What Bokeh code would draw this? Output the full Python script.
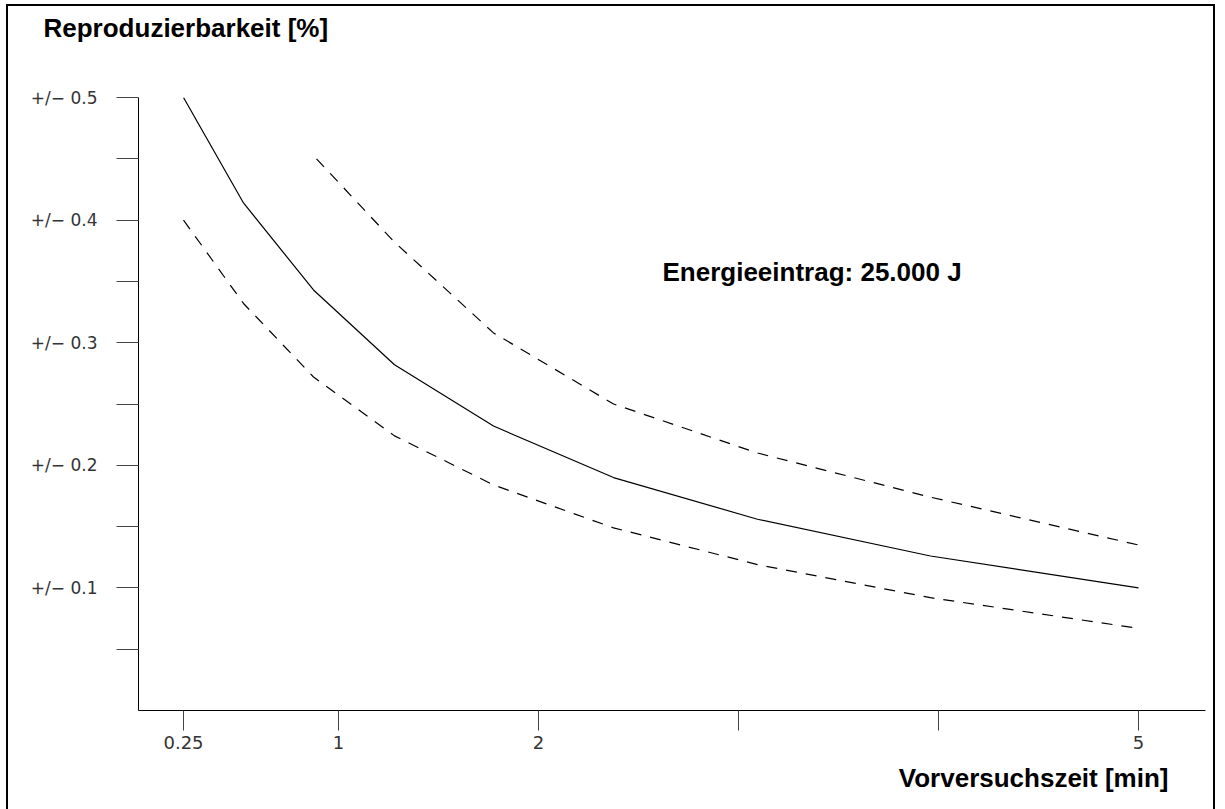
from bokeh.plotting import figure
from bokeh.models import Range1d, FixedTicker, Label, Title
from bokeh.embed import file_html
from bokeh.resources import INLINE

# ---- data ----
x_minutes = [0.225, 0.525, 0.875, 1.28, 1.775, 2.375, 3.095, 3.96, 5.0]
repro_mean = [0.500, 0.414, 0.343, 0.282, 0.232, 0.190, 0.156, 0.126, 0.100]
repro_lower = [0.400, 0.332, 0.272, 0.224, 0.184, 0.149, 0.119, 0.092, 0.067]
upper_x = [0.89, 1.28, 1.775, 2.375, 3.095, 3.96, 5.0]
repro_upper = [0.450, 0.382, 0.308, 0.250, 0.210, 0.174, 0.135]

x_ticks = [0.225, 1, 2, 3, 4, 5]
x_tick_labels = ["0.25", "1", "2", "", "", "5"]
y_ticks = [0.05, 0.1, 0.15, 0.2, 0.25, 0.3, 0.35, 0.4, 0.45, 0.5]
y_tick_labels = ["", "+/\u2212 0.1", "", "+/\u2212 0.2", "", "+/\u2212 0.3", "",
                 "+/\u2212 0.4", "", "+/\u2212 0.5"]

y_title = "Reproduzierbarkeit [%]"
x_title = "Vorversuchszeit [min]"
note = "Energieeintrag: 25.000 J"

bold = "Liberation Sans"

p = figure(width=1205, height=803, output_backend="svg", toolbar_location=None,
           x_range=Range1d(0, 5.335), y_range=Range1d(0, 0.5),
           min_border_left=130, min_border_right=8, min_border_top=91,
           min_border_bottom=99)
p.styles = {"position": "relative", "left": "8px", "top": "6px",
            "outline": "2px solid black"}
p.background_fill_color = "white"
p.border_fill_color = "white"
p.outline_line_color = None
p.xgrid.visible = False
p.ygrid.visible = False

# spacer between frame and the y-axis title (title itself is outermost)
p.add_layout(Title(text=" ", standoff=42, text_font=bold, text_font_size="10px"),
             "above")

p.title.text = y_title
p.title.align = "left"
p.title.offset = -95
p.title.text_font = bold
p.title.text_font_style = "bold"
p.title.text_font_size = "26px"
p.title.text_color = "black"
p.title.standoff = 0

p.add_layout(Title(text=x_title, align="right", offset=37, standoff=19,
                   text_font=bold, text_font_style="bold", text_font_size="26px",
                   text_color="black"), "below")

tick_font = "DejaVu Sans"

xa = p.xaxis[0]
xa.ticker = FixedTicker(ticks=x_ticks, minor_ticks=[])
xa.major_label_overrides = {t: l for t, l in zip(x_ticks, x_tick_labels)}
xa.axis_line_color = "black"
xa.axis_line_width = 1
xa.major_tick_line_color = "#444444"
xa.major_tick_out = 20
xa.major_tick_in = 0
xa.minor_tick_line_color = None
xa.major_label_standoff = 5
xa.major_label_text_font = tick_font
xa.major_label_text_font_size = "18px"
xa.major_label_text_color = "#333333"

ya = p.yaxis[0]
ya.ticker = FixedTicker(ticks=y_ticks, minor_ticks=[])
ya.major_label_overrides = {t: l for t, l in zip(y_ticks, y_tick_labels)}
ya.axis_line_color = "black"
ya.axis_line_width = 1
ya.major_tick_line_color = "#444444"
ya.major_tick_out = 22
ya.major_tick_in = 0
ya.minor_tick_line_color = None
ya.major_label_standoff = 19
ya.major_label_text_font = tick_font
ya.major_label_text_font_size = "17px"
ya.major_label_text_color = "#333333"

p.line(x_minutes, repro_mean, line_color="black", line_width=1.2)
p.line(x_minutes, repro_lower, line_color="black", line_width=1.2, line_dash="11 9")
p.line(upper_x, repro_upper, line_color="black", line_width=1.2, line_dash="11 9")

p.add_layout(Label(x=2.62, y=0.3573, text=note, text_font=bold,
                   text_font_style="bold", text_font_size="26px",
                   text_color="black", text_baseline="alphabetic", text_align="left"))

open("out.html", "w").write(file_html(p, INLINE))
